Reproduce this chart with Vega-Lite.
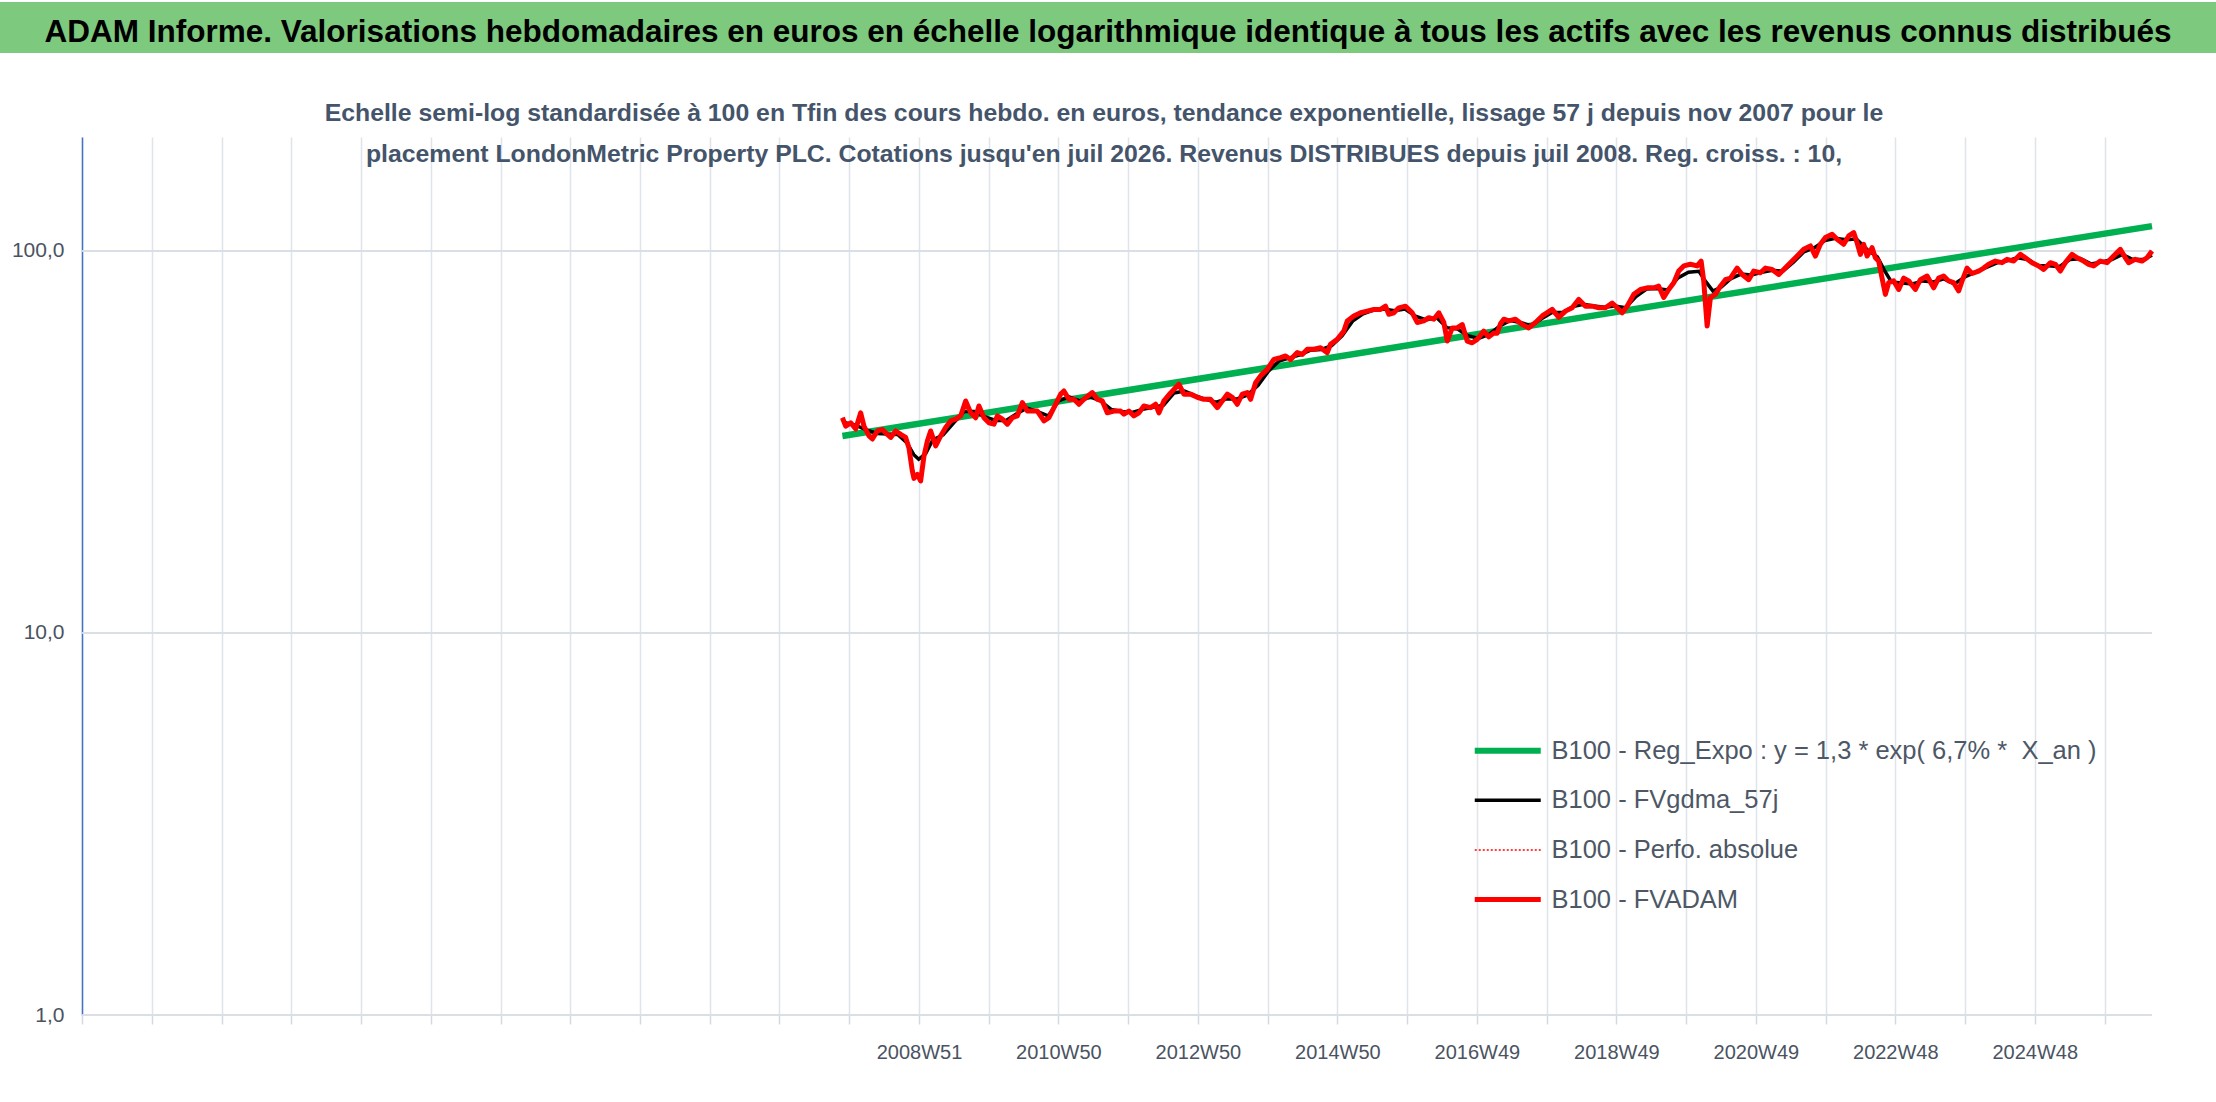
{
  "$schema": "https://vega.github.io/schema/vega-lite/v6.json",
  "padding": {"top": 2, "left": 0, "right": 0, "bottom": 0},
  "background": "white",
  "columns": 1,
  "align": "none",
  "spacing": 47,
  "config": {"view": {"stroke": null}, "font": "Liberation Sans"},
  "datasets": {
    "reg": [
      {"an": 2007.86, "v": 32.8, "s": "a"},
      {"an": 2026.574, "v": 116.2, "s": "a"}
    ],
    "gdma": [
      {"an": 2007.9, "v": 35.5, "s": "b"}, {"an": 2008.05, "v": 35.0, "s": "b"}, {"an": 2008.2, "v": 34.0, "s": "b"},
      {"an": 2008.36, "v": 33.3, "s": "b"}, {"an": 2008.5, "v": 33.2, "s": "b"}, {"an": 2008.65, "v": 33.1, "s": "b"},
      {"an": 2008.78, "v": 31.5, "s": "b"}, {"an": 2008.88, "v": 29.3, "s": "b"}, {"an": 2008.95, "v": 28.5, "s": "b"},
      {"an": 2009.05, "v": 29.5, "s": "b"}, {"an": 2009.15, "v": 32.0, "s": "b"}, {"an": 2009.3, "v": 33.0, "s": "b"},
      {"an": 2009.45, "v": 35.5, "s": "b"}, {"an": 2009.6, "v": 38.0, "s": "b"}, {"an": 2009.75, "v": 38.0, "s": "b"},
      {"an": 2009.9, "v": 36.8, "s": "b"}, {"an": 2010.05, "v": 36.0, "s": "b"}, {"an": 2010.2, "v": 36.0, "s": "b"},
      {"an": 2010.35, "v": 37.5, "s": "b"}, {"an": 2010.5, "v": 38.8, "s": "b"}, {"an": 2010.65, "v": 38.0, "s": "b"},
      {"an": 2010.8, "v": 37.0, "s": "b"}, {"an": 2010.95, "v": 40.5, "s": "b"}, {"an": 2011.1, "v": 41.5, "s": "b"},
      {"an": 2011.25, "v": 40.5, "s": "b"}, {"an": 2011.4, "v": 41.5, "s": "b"}, {"an": 2011.55, "v": 40.5, "s": "b"},
      {"an": 2011.7, "v": 38.5, "s": "b"}, {"an": 2011.85, "v": 38.0, "s": "b"}, {"an": 2012.0, "v": 37.8, "s": "b"},
      {"an": 2012.15, "v": 38.5, "s": "b"}, {"an": 2012.3, "v": 39.0, "s": "b"}, {"an": 2012.45, "v": 39.5, "s": "b"},
      {"an": 2012.6, "v": 42.5, "s": "b"}, {"an": 2012.75, "v": 43.0, "s": "b"}, {"an": 2012.9, "v": 41.8, "s": "b"},
      {"an": 2013.05, "v": 40.9, "s": "b"}, {"an": 2013.2, "v": 40.2, "s": "b"}, {"an": 2013.35, "v": 41.0, "s": "b"},
      {"an": 2013.5, "v": 41.0, "s": "b"}, {"an": 2013.65, "v": 42.0, "s": "b"}, {"an": 2013.8, "v": 44.5, "s": "b"},
      {"an": 2013.95, "v": 48.5, "s": "b"}, {"an": 2014.1, "v": 51.5, "s": "b"}, {"an": 2014.25, "v": 52.5, "s": "b"},
      {"an": 2014.4, "v": 53.5, "s": "b"}, {"an": 2014.55, "v": 55.0, "s": "b"}, {"an": 2014.7, "v": 55.2, "s": "b"},
      {"an": 2014.85, "v": 56.5, "s": "b"}, {"an": 2015.0, "v": 60.0, "s": "b"}, {"an": 2015.15, "v": 65.5, "s": "b"},
      {"an": 2015.3, "v": 68.5, "s": "b"}, {"an": 2015.45, "v": 70.0, "s": "b"}, {"an": 2015.6, "v": 70.5, "s": "b"},
      {"an": 2015.75, "v": 69.8, "s": "b"}, {"an": 2015.9, "v": 70.5, "s": "b"}, {"an": 2016.05, "v": 67.5, "s": "b"},
      {"an": 2016.2, "v": 66.0, "s": "b"}, {"an": 2016.35, "v": 67.0, "s": "b"}, {"an": 2016.5, "v": 63.0, "s": "b"},
      {"an": 2016.65, "v": 62.5, "s": "b"}, {"an": 2016.8, "v": 60.0, "s": "b"}, {"an": 2016.95, "v": 59.0, "s": "b"},
      {"an": 2017.1, "v": 60.5, "s": "b"}, {"an": 2017.25, "v": 63.5, "s": "b"}, {"an": 2017.4, "v": 65.8, "s": "b"},
      {"an": 2017.55, "v": 65.0, "s": "b"}, {"an": 2017.7, "v": 63.8, "s": "b"}, {"an": 2017.85, "v": 66.5, "s": "b"},
      {"an": 2018.0, "v": 69.0, "s": "b"}, {"an": 2018.15, "v": 69.0, "s": "b"}, {"an": 2018.3, "v": 71.5, "s": "b"},
      {"an": 2018.45, "v": 72.5, "s": "b"}, {"an": 2018.6, "v": 71.8, "s": "b"}, {"an": 2018.75, "v": 71.2, "s": "b"},
      {"an": 2018.9, "v": 71.8, "s": "b"}, {"an": 2019.05, "v": 71.0, "s": "b"}, {"an": 2019.2, "v": 76.0, "s": "b"},
      {"an": 2019.35, "v": 79.5, "s": "b"}, {"an": 2019.5, "v": 79.8, "s": "b"}, {"an": 2019.65, "v": 79.0, "s": "b"},
      {"an": 2019.8, "v": 85.0, "s": "b"}, {"an": 2019.95, "v": 88.0, "s": "b"}, {"an": 2020.1, "v": 88.5, "s": "b"},
      {"an": 2020.2, "v": 83.0, "s": "b"}, {"an": 2020.3, "v": 78.5, "s": "b"}, {"an": 2020.42, "v": 80.5, "s": "b"},
      {"an": 2020.55, "v": 84.5, "s": "b"}, {"an": 2020.7, "v": 87.0, "s": "b"}, {"an": 2020.85, "v": 86.5, "s": "b"},
      {"an": 2021.0, "v": 88.0, "s": "b"}, {"an": 2021.15, "v": 89.0, "s": "b"}, {"an": 2021.3, "v": 88.5, "s": "b"},
      {"an": 2021.45, "v": 93.5, "s": "b"}, {"an": 2021.6, "v": 99.5, "s": "b"}, {"an": 2021.75, "v": 102.0, "s": "b"},
      {"an": 2021.9, "v": 106.5, "s": "b"}, {"an": 2022.05, "v": 108.0, "s": "b"}, {"an": 2022.2, "v": 107.0, "s": "b"},
      {"an": 2022.35, "v": 107.5, "s": "b"}, {"an": 2022.5, "v": 101.0, "s": "b"}, {"an": 2022.65, "v": 96.5, "s": "b"},
      {"an": 2022.75, "v": 89.0, "s": "b"}, {"an": 2022.85, "v": 83.0, "s": "b"}, {"an": 2023.0, "v": 82.5, "s": "b"},
      {"an": 2023.15, "v": 82.0, "s": "b"}, {"an": 2023.3, "v": 83.5, "s": "b"}, {"an": 2023.45, "v": 83.0, "s": "b"},
      {"an": 2023.6, "v": 84.5, "s": "b"}, {"an": 2023.75, "v": 82.0, "s": "b"}, {"an": 2023.9, "v": 85.5, "s": "b"},
      {"an": 2024.05, "v": 88.0, "s": "b"}, {"an": 2024.2, "v": 90.5, "s": "b"}, {"an": 2024.35, "v": 93.0, "s": "b"},
      {"an": 2024.5, "v": 94.2, "s": "b"}, {"an": 2024.65, "v": 96.0, "s": "b"}, {"an": 2024.8, "v": 95.0, "s": "b"},
      {"an": 2024.95, "v": 91.5, "s": "b"}, {"an": 2025.1, "v": 91.5, "s": "b"}, {"an": 2025.25, "v": 91.0, "s": "b"},
      {"an": 2025.4, "v": 95.0, "s": "b"}, {"an": 2025.55, "v": 95.5, "s": "b"}, {"an": 2025.7, "v": 92.5, "s": "b"},
      {"an": 2025.85, "v": 93.5, "s": "b"}, {"an": 2026.0, "v": 95.0, "s": "b"}, {"an": 2026.15, "v": 98.0, "s": "b"},
      {"an": 2026.3, "v": 95.0, "s": "b"}, {"an": 2026.45, "v": 95.0, "s": "b"}, {"an": 2026.574, "v": 97.5, "s": "b"}
    ],
    "fvadam": [
      {"an": 2007.86, "v": 36.6, "s": "d"}, {"an": 2007.907, "v": 34.8, "s": "d"}, {"an": 2007.979, "v": 35.5, "s": "d"},
      {"an": 2008.05, "v": 34.2, "s": "d"}, {"an": 2008.121, "v": 37.7, "s": "d"}, {"an": 2008.168, "v": 34.8, "s": "d"},
      {"an": 2008.24, "v": 32.8, "s": "d"}, {"an": 2008.288, "v": 32.2, "s": "d"}, {"an": 2008.36, "v": 33.8, "s": "d"},
      {"an": 2008.431, "v": 34.1, "s": "d"}, {"an": 2008.503, "v": 33.1, "s": "d"}, {"an": 2008.55, "v": 32.5, "s": "d"},
      {"an": 2008.621, "v": 33.8, "s": "d"}, {"an": 2008.693, "v": 33.1, "s": "d"}, {"an": 2008.764, "v": 32.5, "s": "d"},
      {"an": 2008.811, "v": 30.5, "s": "d"}, {"an": 2008.86, "v": 26.5, "s": "d"}, {"an": 2008.883, "v": 25.4, "s": "d"},
      {"an": 2008.931, "v": 26.0, "s": "d"}, {"an": 2008.978, "v": 25.0, "s": "d"}, {"an": 2009.025, "v": 29.0, "s": "d"},
      {"an": 2009.074, "v": 31.8, "s": "d"}, {"an": 2009.121, "v": 33.8, "s": "d"}, {"an": 2009.193, "v": 30.9, "s": "d"},
      {"an": 2009.264, "v": 32.8, "s": "d"}, {"an": 2009.335, "v": 34.5, "s": "d"}, {"an": 2009.407, "v": 35.9, "s": "d"},
      {"an": 2009.478, "v": 36.3, "s": "d"}, {"an": 2009.55, "v": 37.0, "s": "d"}, {"an": 2009.621, "v": 40.5, "s": "d"},
      {"an": 2009.693, "v": 37.7, "s": "d"}, {"an": 2009.764, "v": 36.6, "s": "d"}, {"an": 2009.811, "v": 39.3, "s": "d"},
      {"an": 2009.883, "v": 36.6, "s": "d"}, {"an": 2009.954, "v": 35.5, "s": "d"}, {"an": 2010.025, "v": 35.2, "s": "d"},
      {"an": 2010.074, "v": 37.0, "s": "d"}, {"an": 2010.145, "v": 36.3, "s": "d"}, {"an": 2010.217, "v": 35.2, "s": "d"},
      {"an": 2010.288, "v": 36.6, "s": "d"}, {"an": 2010.36, "v": 37.0, "s": "d"}, {"an": 2010.431, "v": 40.1, "s": "d"},
      {"an": 2010.503, "v": 38.1, "s": "d"}, {"an": 2010.574, "v": 38.1, "s": "d"}, {"an": 2010.645, "v": 38.1, "s": "d"},
      {"an": 2010.74, "v": 35.9, "s": "d"}, {"an": 2010.811, "v": 36.6, "s": "d"}, {"an": 2010.883, "v": 38.9, "s": "d"},
      {"an": 2010.979, "v": 42.2, "s": "d"}, {"an": 2011.025, "v": 43.0, "s": "d"}, {"an": 2011.097, "v": 40.9, "s": "d"},
      {"an": 2011.168, "v": 40.9, "s": "d"}, {"an": 2011.24, "v": 39.7, "s": "d"}, {"an": 2011.311, "v": 40.9, "s": "d"},
      {"an": 2011.431, "v": 42.6, "s": "d"}, {"an": 2011.503, "v": 40.9, "s": "d"}, {"an": 2011.574, "v": 40.5, "s": "d"},
      {"an": 2011.645, "v": 37.7, "s": "d"}, {"an": 2011.74, "v": 38.1, "s": "d"}, {"an": 2011.835, "v": 38.1, "s": "d"},
      {"an": 2011.883, "v": 37.4, "s": "d"}, {"an": 2011.954, "v": 38.1, "s": "d"}, {"an": 2012.025, "v": 37.0, "s": "d"},
      {"an": 2012.097, "v": 37.7, "s": "d"}, {"an": 2012.168, "v": 39.3, "s": "d"}, {"an": 2012.264, "v": 38.9, "s": "d"},
      {"an": 2012.335, "v": 39.7, "s": "d"}, {"an": 2012.383, "v": 37.7, "s": "d"}, {"an": 2012.454, "v": 40.5, "s": "d"},
      {"an": 2012.55, "v": 42.5, "s": "d"}, {"an": 2012.597, "v": 43.4, "s": "d"}, {"an": 2012.668, "v": 44.8, "s": "d"},
      {"an": 2012.74, "v": 42.2, "s": "d"}, {"an": 2012.835, "v": 42.2, "s": "d"}, {"an": 2012.931, "v": 41.4, "s": "d"},
      {"an": 2013.025, "v": 40.9, "s": "d"}, {"an": 2013.121, "v": 40.9, "s": "d"}, {"an": 2013.217, "v": 38.9, "s": "d"},
      {"an": 2013.288, "v": 40.5, "s": "d"}, {"an": 2013.36, "v": 42.2, "s": "d"}, {"an": 2013.431, "v": 41.4, "s": "d"},
      {"an": 2013.503, "v": 39.7, "s": "d"}, {"an": 2013.574, "v": 42.2, "s": "d"}, {"an": 2013.645, "v": 42.6, "s": "d"},
      {"an": 2013.693, "v": 40.9, "s": "d"}, {"an": 2013.764, "v": 45.2, "s": "d"}, {"an": 2013.835, "v": 47.1, "s": "d"},
      {"an": 2013.931, "v": 49.0, "s": "d"}, {"an": 2014.025, "v": 52.0, "s": "d"}, {"an": 2014.121, "v": 52.6, "s": "d"},
      {"an": 2014.193, "v": 53.1, "s": "d"}, {"an": 2014.264, "v": 52.0, "s": "d"}, {"an": 2014.36, "v": 54.2, "s": "d"},
      {"an": 2014.431, "v": 53.6, "s": "d"}, {"an": 2014.503, "v": 55.3, "s": "d"}, {"an": 2014.597, "v": 55.3, "s": "d"},
      {"an": 2014.693, "v": 55.8, "s": "d"}, {"an": 2014.788, "v": 54.2, "s": "d"}, {"an": 2014.835, "v": 57.0, "s": "d"},
      {"an": 2014.931, "v": 58.7, "s": "d"}, {"an": 2015.025, "v": 61.7, "s": "d"}, {"an": 2015.074, "v": 65.6, "s": "d"},
      {"an": 2015.168, "v": 67.6, "s": "d"}, {"an": 2015.264, "v": 68.9, "s": "d"}, {"an": 2015.36, "v": 69.6, "s": "d"},
      {"an": 2015.454, "v": 70.3, "s": "d"}, {"an": 2015.55, "v": 70.3, "s": "d"}, {"an": 2015.621, "v": 71.7, "s": "d"},
      {"an": 2015.668, "v": 68.3, "s": "d"}, {"an": 2015.74, "v": 68.9, "s": "d"}, {"an": 2015.811, "v": 71.0, "s": "d"},
      {"an": 2015.907, "v": 71.7, "s": "d"}, {"an": 2016.003, "v": 68.9, "s": "d"}, {"an": 2016.074, "v": 65.0, "s": "d"},
      {"an": 2016.168, "v": 65.6, "s": "d"}, {"an": 2016.24, "v": 66.9, "s": "d"}, {"an": 2016.311, "v": 66.3, "s": "d"},
      {"an": 2016.383, "v": 68.9, "s": "d"}, {"an": 2016.454, "v": 65.0, "s": "d"}, {"an": 2016.503, "v": 58.1, "s": "d"},
      {"an": 2016.574, "v": 62.9, "s": "d"}, {"an": 2016.645, "v": 62.9, "s": "d"}, {"an": 2016.717, "v": 64.2, "s": "d"},
      {"an": 2016.788, "v": 58.1, "s": "d"}, {"an": 2016.86, "v": 57.5, "s": "d"}, {"an": 2016.931, "v": 58.7, "s": "d"},
      {"an": 2017.025, "v": 61.7, "s": "d"}, {"an": 2017.097, "v": 59.6, "s": "d"}, {"an": 2017.168, "v": 61.0, "s": "d"},
      {"an": 2017.217, "v": 60.9, "s": "d"}, {"an": 2017.264, "v": 64.5, "s": "d"}, {"an": 2017.311, "v": 66.3, "s": "d"},
      {"an": 2017.383, "v": 65.6, "s": "d"}, {"an": 2017.478, "v": 66.3, "s": "d"}, {"an": 2017.574, "v": 64.2, "s": "d"},
      {"an": 2017.668, "v": 62.9, "s": "d"}, {"an": 2017.764, "v": 65.0, "s": "d"}, {"an": 2017.86, "v": 67.6, "s": "d"},
      {"an": 2018.003, "v": 70.3, "s": "d"}, {"an": 2018.097, "v": 67.0, "s": "d"}, {"an": 2018.193, "v": 69.6, "s": "d"},
      {"an": 2018.288, "v": 71.0, "s": "d"}, {"an": 2018.383, "v": 74.7, "s": "d"}, {"an": 2018.478, "v": 71.7, "s": "d"},
      {"an": 2018.574, "v": 71.7, "s": "d"}, {"an": 2018.668, "v": 71.0, "s": "d"}, {"an": 2018.764, "v": 71.0, "s": "d"},
      {"an": 2018.86, "v": 73.1, "s": "d"}, {"an": 2018.931, "v": 71.0, "s": "d"}, {"an": 2019.003, "v": 68.9, "s": "d"},
      {"an": 2019.074, "v": 71.7, "s": "d"}, {"an": 2019.168, "v": 77.0, "s": "d"}, {"an": 2019.264, "v": 79.3, "s": "d"},
      {"an": 2019.36, "v": 80.1, "s": "d"}, {"an": 2019.454, "v": 80.1, "s": "d"}, {"an": 2019.525, "v": 80.9, "s": "d"},
      {"an": 2019.597, "v": 75.6, "s": "d"}, {"an": 2019.668, "v": 79.3, "s": "d"}, {"an": 2019.74, "v": 82.6, "s": "d"},
      {"an": 2019.811, "v": 88.6, "s": "d"}, {"an": 2019.883, "v": 91.4, "s": "d"}, {"an": 2019.978, "v": 92.3, "s": "d"},
      {"an": 2020.074, "v": 91.4, "s": "d"}, {"an": 2020.131, "v": 94.1, "s": "d"}, {"an": 2020.168, "v": 83.5, "s": "d"},
      {"an": 2020.217, "v": 63.6, "s": "d"}, {"an": 2020.264, "v": 75.6, "s": "d"}, {"an": 2020.335, "v": 77.0, "s": "d"},
      {"an": 2020.407, "v": 80.9, "s": "d"}, {"an": 2020.478, "v": 84.1, "s": "d"}, {"an": 2020.55, "v": 84.9, "s": "d"},
      {"an": 2020.645, "v": 90.2, "s": "d"}, {"an": 2020.717, "v": 86.8, "s": "d"}, {"an": 2020.811, "v": 84.1, "s": "d"},
      {"an": 2020.883, "v": 88.6, "s": "d"}, {"an": 2020.978, "v": 87.7, "s": "d"}, {"an": 2021.05, "v": 90.2, "s": "d"},
      {"an": 2021.145, "v": 89.5, "s": "d"}, {"an": 2021.24, "v": 86.8, "s": "d"}, {"an": 2021.311, "v": 89.5, "s": "d"},
      {"an": 2021.407, "v": 93.2, "s": "d"}, {"an": 2021.503, "v": 97.0, "s": "d"}, {"an": 2021.597, "v": 101.0, "s": "d"},
      {"an": 2021.693, "v": 103.1, "s": "d"}, {"an": 2021.764, "v": 97.0, "s": "d"}, {"an": 2021.835, "v": 104.1, "s": "d"},
      {"an": 2021.907, "v": 108.4, "s": "d"}, {"an": 2022.003, "v": 110.6, "s": "d"}, {"an": 2022.074, "v": 107.3, "s": "d"},
      {"an": 2022.168, "v": 104.1, "s": "d"}, {"an": 2022.24, "v": 109.5, "s": "d"}, {"an": 2022.311, "v": 111.7, "s": "d"},
      {"an": 2022.36, "v": 105.1, "s": "d"}, {"an": 2022.407, "v": 98.0, "s": "d"}, {"an": 2022.454, "v": 104.1, "s": "d"},
      {"an": 2022.503, "v": 97.0, "s": "d"}, {"an": 2022.574, "v": 102.0, "s": "d"}, {"an": 2022.621, "v": 96.0, "s": "d"},
      {"an": 2022.668, "v": 94.1, "s": "d"}, {"an": 2022.717, "v": 84.9, "s": "d"}, {"an": 2022.764, "v": 77.0, "s": "d"},
      {"an": 2022.811, "v": 82.6, "s": "d"}, {"an": 2022.883, "v": 83.5, "s": "d"}, {"an": 2022.954, "v": 79.3, "s": "d"},
      {"an": 2023.025, "v": 84.9, "s": "d"}, {"an": 2023.097, "v": 83.5, "s": "d"}, {"an": 2023.193, "v": 79.3, "s": "d"},
      {"an": 2023.264, "v": 84.1, "s": "d"}, {"an": 2023.36, "v": 86.0, "s": "d"}, {"an": 2023.454, "v": 80.1, "s": "d"},
      {"an": 2023.525, "v": 84.9, "s": "d"}, {"an": 2023.597, "v": 86.0, "s": "d"}, {"an": 2023.668, "v": 83.5, "s": "d"},
      {"an": 2023.74, "v": 82.6, "s": "d"}, {"an": 2023.811, "v": 78.6, "s": "d"}, {"an": 2023.86, "v": 83.5, "s": "d"},
      {"an": 2023.931, "v": 90.2, "s": "d"}, {"an": 2024.003, "v": 87.3, "s": "d"}, {"an": 2024.097, "v": 88.6, "s": "d"},
      {"an": 2024.168, "v": 90.2, "s": "d"}, {"an": 2024.24, "v": 92.3, "s": "d"}, {"an": 2024.335, "v": 94.1, "s": "d"},
      {"an": 2024.431, "v": 93.2, "s": "d"}, {"an": 2024.503, "v": 95.1, "s": "d"}, {"an": 2024.597, "v": 94.1, "s": "d"},
      {"an": 2024.693, "v": 98.0, "s": "d"}, {"an": 2024.764, "v": 96.0, "s": "d"}, {"an": 2024.86, "v": 93.2, "s": "d"},
      {"an": 2024.954, "v": 91.4, "s": "d"}, {"an": 2025.025, "v": 89.5, "s": "d"}, {"an": 2025.121, "v": 93.2, "s": "d"},
      {"an": 2025.193, "v": 92.3, "s": "d"}, {"an": 2025.264, "v": 88.6, "s": "d"}, {"an": 2025.335, "v": 93.2, "s": "d"},
      {"an": 2025.431, "v": 98.0, "s": "d"}, {"an": 2025.503, "v": 96.0, "s": "d"}, {"an": 2025.597, "v": 94.1, "s": "d"},
      {"an": 2025.668, "v": 92.3, "s": "d"}, {"an": 2025.74, "v": 91.4, "s": "d"}, {"an": 2025.835, "v": 94.1, "s": "d"},
      {"an": 2025.931, "v": 93.2, "s": "d"}, {"an": 2026.025, "v": 97.0, "s": "d"}, {"an": 2026.121, "v": 101.0, "s": "d"},
      {"an": 2026.193, "v": 96.0, "s": "d"}, {"an": 2026.24, "v": 93.2, "s": "d"}, {"an": 2026.335, "v": 95.1, "s": "d"},
      {"an": 2026.431, "v": 94.1, "s": "d"}, {"an": 2026.503, "v": 96.0, "s": "d"}, {"an": 2026.574, "v": 100.0, "s": "d"}
    ],
    "grille": [
      {"v": 1, "an": 1996.995, "an2": 2026.574},
      {"v": 10, "an": 1996.995, "an2": 2026.574},
      {"v": 100, "an": 1996.995, "an2": 2026.574}
    ]
  },
  "concat": [
    {
      "width": 2216,
      "height": 51,
      "view": {"fill": "#7dc97d", "stroke": null},
      "data": {"values": [{"t": "ADAM Informe. Valorisations hebdomadaires en euros en échelle logarithmique identique à tous les actifs avec les revenus connus distribués"}]},
      "mark": {"type": "text", "font": "Liberation Sans", "fontWeight": "bold", "fontSize": 31.5, "color": "#000000", "baseline": "alphabetic", "dy": 14},
      "encoding": {"text": {"field": "t", "type": "nominal"}}
    },
    {
      "width": 2152,
      "height": 878,
      "title": {
        "text": [
          "Echelle semi-log standardisée à 100 en Tfin des cours hebdo. en euros, tendance exponentielle, lissage 57 j depuis nov 2007 pour le",
          "placement LondonMetric Property PLC. Cotations jusqu'en juil 2026. Revenus DISTRIBUES depuis juil 2008. Reg. croiss. : 10,"
        ],
        "font": "Liberation Sans",
        "fontSize": 24.8,
        "fontWeight": "bold",
        "color": "#44546a",
        "lineHeight": 41.5,
        "baseline": "alphabetic",
        "anchor": "middle",
        "offset": 2,
        "dy": 52,
        "dx": 28
      },
      "encoding": {
        "x": {
          "field": "an",
          "type": "quantitative",
          "scale": {"domain": [1995.822, 2026.574], "nice": false, "zero": false},
          "axis": {
            "title": null,
            "values": [1996.995, 1997.991, 1998.988, 1999.985, 2000.981, 2001.978, 2002.975, 2003.971, 2004.968, 2005.964, 2006.961, 2007.957, 2008.954, 2009.951, 2010.947, 2011.944, 2012.94, 2013.937, 2014.933, 2015.93, 2016.927, 2017.923, 2018.92, 2019.916, 2020.913, 2021.91, 2022.906, 2023.903, 2024.899, 2025.896],
            "labelExpr": "(round((datum.value - 2008.954) / 0.99658) >= 0 && round((datum.value - 2008.954) / 0.99658) % 2 == 0) ? ['2008W51','2010W50','2012W50','2014W50','2016W49','2018W49','2020W49','2022W48','2024W48'][round((datum.value - 2008.954) / 0.99658) / 2] : ''",
            "grid": true,
            "gridColor": "#dfe3ea",
            "gridWidth": 1.5,
            "domain": false,
            "ticks": true,
            "tickColor": "#d5d9df",
            "tickWidth": 1.5,
            "tickSize": 9,
            "labelFont": "Liberation Sans",
            "labelFontSize": 20,
            "labelColor": "#4a5362",
            "labelPadding": 18,
            "labelOverlap": false,
            "labelFlush": false,
            "labelBound": false
          }
        },
        "y": {
          "field": "v",
          "type": "quantitative",
          "scale": {"type": "log", "domain": [1, 198.8], "nice": false},
          "axis": {
            "title": null,
            "values": [1, 10, 100],
            "labelExpr": "replace(format(datum.value, '.1f'), '.', ',')",
            "grid": false,
            "offset": -82,
            "domainColor": "#4472c4",
            "domainWidth": 1.5,
            "ticks": false,
            "labelFont": "Liberation Sans",
            "labelFontSize": 21,
            "labelColor": "#4a5362",
            "labelPadding": 18
          }
        },
        "color": {
          "field": "s",
          "type": "nominal",
          "scale": {"domain": ["a", "b", "c", "d"], "range": ["#00b050", "#000000", "#ff0000", "#ff0000"]},
          "legend": {
            "title": null,
            "orient": "none",
            "legendX": 1495,
            "legendY": 736,
            "symbolType": "stroke",
            "symbolSize": 4356,
            "symbolStrokeWidth": 5,
            "labelFont": "Liberation Sans",
            "labelFontSize": 25.5,
            "labelColor": "#4d5766",
            "labelLimit": 0,
            "labelOffset": 31,
            "rowPadding": 22.6,
            "labelExpr": "{'a': 'B100 - Reg_Expo : y = 1,3 * exp( 6,7% * \u00a0X_an )', 'b': 'B100 - FVgdma_57j', 'c': 'B100 - Perfo. absolue', 'd': 'B100 - FVADAM'}[datum.value]",
            "encode": {
              "symbols": {
                "update": {
                  "strokeWidth": {"signal": "datum.value === 'a' ? 6 : datum.value === 'b' ? 3.5 : datum.value === 'c' ? 1.5 : 5"},
                  "strokeDash": {"signal": "datum.value === 'c' ? [2, 2] : null"}
                }
              }
            }
          }
        }
      },
      "layer": [
        {
          "data": {"name": "grille"},
          "mark": {"type": "rule", "strokeWidth": 1.8, "color": "#dadee5"},
          "encoding": {
            "x": {"field": "an", "type": "quantitative"},
            "x2": {"field": "an2"},
            "y": {"field": "v", "type": "quantitative"},
            "color": {"value": "#dadee5"}
          }
        },
        {"data": {"name": "reg"}, "mark": {"type": "line", "strokeWidth": 6.5}},
        {"data": {"name": "gdma"}, "mark": {"type": "line", "strokeWidth": 3.5}},
        {"data": {"name": "fvadam"}, "mark": {"type": "line", "strokeWidth": 1.5, "strokeDash": [2, 2]}, "encoding": {"color": {"value": "#ff0000"}}},
        {"data": {"name": "fvadam"}, "mark": {"type": "line", "strokeWidth": 5, "strokeJoin": "round"}}
      ]
    }
  ]
}
